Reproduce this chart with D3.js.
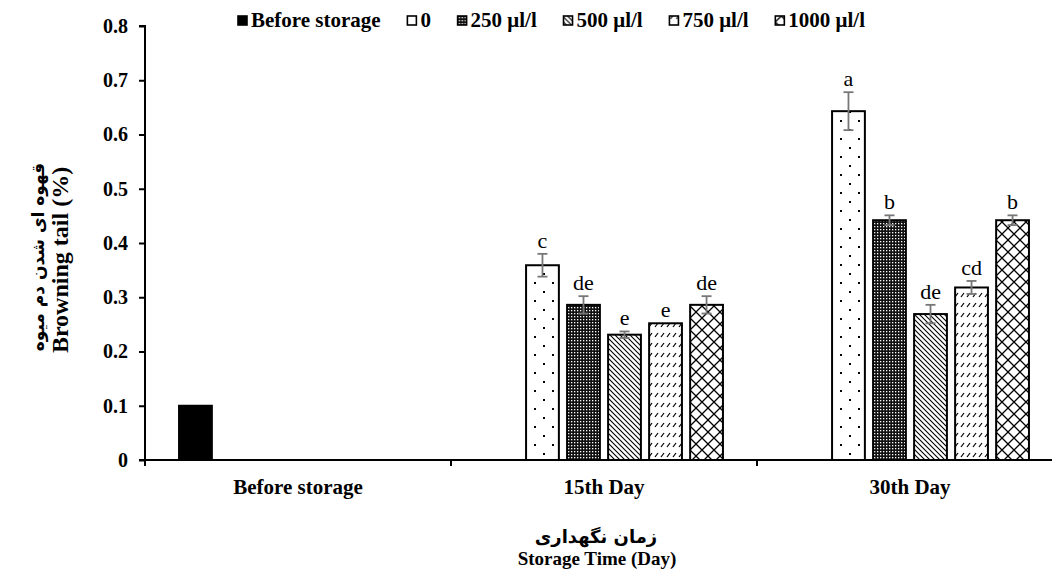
<!DOCTYPE html>
<html>
<head>
<meta charset="utf-8">
<script src="https://cdn.jsdelivr.net/npm/d3@7"></script>
<style>
  body { margin: 0; background: #fff; }
  svg { display: block; font-family: "Liberation Serif", "Times New Roman", serif; }
</style>
</head>
<body>
<div id="chart"></div>
<script>
// storage times on the x axis
var categories = ['Before storage', '15th Day', '30th Day'];
// treatments (legend order)
var series = ['Before storage', '0', '250 μl/l', '500 μl/l', '750 μl/l', '1000 μl/l'];
var patternIds = ['solid', 'dots', 'mesh', 'diag', 'dash', 'trellis'];

// browning tail values, one array per treatment, indexed by category
var beforeValues = [0.1, null, null];
var values0 = [null, 0.359, 0.643];
var values250 = [null, 0.286, 0.442];
var values500 = [null, 0.231, 0.269];
var values750 = [null, 0.252, 0.318];
var values1000 = [null, 0.286, 0.442];

// standard errors
var errBefore = [0, null, null];
var err0 = [null, 0.021, 0.035];
var err250 = [null, 0.016, 0.009];
var err500 = [null, 0.006, 0.017];
var err750 = [null, 0, 0.012];
var err1000 = [null, 0.016, 0.009];

// significance letters
var letBefore = ['', null, null];
var let0 = [null, 'c', 'a'];
var let250 = [null, 'de', 'b'];
var let500 = [null, 'e', 'de'];
var let750 = [null, 'e', 'cd'];
var let1000 = [null, 'de', 'b'];

var yTicks = [0, 0.1, 0.2, 0.3, 0.4, 0.5, 0.6, 0.7, 0.8];

var allValues = [beforeValues, values0, values250, values500, values750, values1000];
var allErrors = [errBefore, err0, err250, err500, err750, err1000];
var allLetters = [letBefore, let0, let250, let500, let750, let1000];

var width = 1052,
	height = 577,
	margin = {left: 145, top: 26, right: 0, bottom: 117};

var legendLeft = 238,
	legendRight = 865;

var svg = d3.select('#chart').append('svg')
	.attr('width', width)
	.attr('height', height);

var defs = svg.append('defs');

// fill patterns roughly like the Excel ones
var p = defs.append('pattern').attr('id', 'dots').attr('patternUnits', 'userSpaceOnUse')
	.attr('width', 18).attr('height', 18);
p.append('rect').attr('width', 18).attr('height', 18).attr('fill', '#fff');
p.append('rect').attr('x', 3).attr('y', 3).attr('width', 2).attr('height', 2).attr('fill', '#000');
p.append('rect').attr('x', 12).attr('y', 12).attr('width', 2).attr('height', 2).attr('fill', '#000');

p = defs.append('pattern').attr('id', 'mesh').attr('patternUnits', 'userSpaceOnUse')
	.attr('width', 3).attr('height', 3);
p.append('rect').attr('width', 3).attr('height', 3).attr('fill', '#111');
p.append('rect').attr('x', 1).attr('y', 1).attr('width', 1.3).attr('height', 1.3).attr('fill', '#fff');

p = defs.append('pattern').attr('id', 'diag').attr('patternUnits', 'userSpaceOnUse')
	.attr('width', 5).attr('height', 5);
p.append('rect').attr('width', 5).attr('height', 5).attr('fill', '#fff');
p.append('path').attr('d', 'M-1,-1 L6,6 M-1,4 L1,6 M4,-1 L6,1').attr('stroke', '#000').attr('stroke-width', 1.1);

p = defs.append('pattern').attr('id', 'dash').attr('patternUnits', 'userSpaceOnUse')
	.attr('width', 6).attr('height', 10);
p.append('rect').attr('width', 6).attr('height', 10).attr('fill', '#fff');
p.append('path').attr('d', 'M1,7 L4,3').attr('stroke', '#000').attr('stroke-width', 1.2);

p = defs.append('pattern').attr('id', 'trellis').attr('patternUnits', 'userSpaceOnUse')
	.attr('width', 12).attr('height', 12);
p.append('rect').attr('width', 12).attr('height', 12).attr('fill', '#fff');
p.append('path').attr('d', 'M0,0 L12,12 M12,0 L0,12').attr('stroke', '#000').attr('stroke-width', 1.3);

var x0 = d3.scaleBand()
	.domain(categories)
	.range([margin.left, margin.left + 3 * 306]);

var x1 = d3.scaleBand()
	.domain(series)
	.range([0, x0.bandwidth()])
	.paddingInner(0.2)
	.paddingOuter(0.83);

var y = d3.scaleLinear()
	.domain([0, 0.8])
	.range([height - margin.bottom, margin.top]);

// y axis
var yAxis = svg.append('g')
	.attr('transform', 'translate(' + margin.left + ',0)')
	.call(d3.axisLeft(y).tickValues(yTicks).tickSize(6)
		.tickFormat(function(d) { return d === 0 ? '0' : d.toFixed(1); }));
yAxis.selectAll('path, line').attr('stroke', '#000').attr('stroke-width', 2);
yAxis.select('.domain').attr('d', 'M-6,' + y(0.8) + 'H0V' + (y(0) + 6));
yAxis.selectAll('text')
	.attr('x', -17)
	.style('font-family', '"Liberation Serif", serif')
	.style('font-weight', 'bold')
	.style('font-size', '20px')
	.attr('fill', '#000');

// bars
var rows = [];
series.forEach(function(s, si) {
	categories.forEach(function(c, ci) {
		var v = allValues[si][ci];
		if (v == null) return;
		rows.push({series: s, cat: c, value: v, err: allErrors[si][ci], letter: allLetters[si][ci], pat: patternIds[si]});
	});
});

svg.append('g').selectAll('rect')
	.data(rows)
	.enter().append('rect')
	.attr('x', function(d) { return x0(d.cat) + x1(d.series); })
	.attr('y', function(d) { return y(d.value); })
	.attr('width', x1.bandwidth())
	.attr('height', function(d) { return y(0) - y(d.value); })
	.attr('fill', function(d) { return d.pat === 'solid' ? '#000' : 'url(#' + d.pat + ')'; })
	.attr('stroke', '#000')
	.attr('stroke-width', 2);

// error bars
var eb = svg.append('g').selectAll('g')
	.data(rows.filter(function(d) { return d.err > 0; }))
	.enter().append('g')
	.attr('stroke', '#777')
	.attr('stroke-width', 1.8);
eb.append('line')
	.attr('x1', function(d) { return x0(d.cat) + x1(d.series) + x1.bandwidth() / 2; })
	.attr('x2', function(d) { return x0(d.cat) + x1(d.series) + x1.bandwidth() / 2; })
	.attr('y1', function(d) { return y(d.value + d.err); })
	.attr('y2', function(d) { return y(d.value - d.err); });
[1, -1].forEach(function(sign) {
	eb.append('line')
		.attr('x1', function(d) { return x0(d.cat) + x1(d.series) + x1.bandwidth() / 2 - 5; })
		.attr('x2', function(d) { return x0(d.cat) + x1(d.series) + x1.bandwidth() / 2 + 5; })
		.attr('y1', function(d) { return y(d.value + sign * d.err); })
		.attr('y2', function(d) { return y(d.value + sign * d.err); });
});

// letters
svg.append('g').selectAll('text')
	.data(rows.filter(function(d) { return d.letter; }))
	.enter().append('text')
	.attr('x', function(d) { return x0(d.cat) + x1(d.series) + x1.bandwidth() / 2; })
	.attr('y', function(d) { return y(d.value + d.err) - 6; })
	.attr('text-anchor', 'middle')
	.style('font-size', '22px')
	.text(function(d) { return d.letter; });

// x axis
var xAxis = svg.append('g')
	.attr('transform', 'translate(0,' + y(0) + ')');
xAxis.append('line')
	.attr('x1', margin.left - 6).attr('x2', width)
	.attr('stroke', '#000').attr('stroke-width', 2);
xAxis.selectAll('.tk')
	.data(categories)
	.enter().append('line')
	.attr('class', 'tk')
	.attr('x1', function(d) { return x0(d); })
	.attr('x2', function(d) { return x0(d); })
	.attr('y1', 0).attr('y2', 6)
	.attr('stroke', '#000').attr('stroke-width', 2);
xAxis.selectAll('.lb')
	.data(categories)
	.enter().append('text')
	.attr('class', 'lb')
	.attr('x', function(d) { return x0(d) + x0.bandwidth() / 2; })
	.attr('y', 34)
	.attr('text-anchor', 'middle')
	.style('font-weight', 'bold')
	.style('font-size', '21px')
	.text(function(d) { return d; });

// axis titles
svg.append('text')
	.attr('x', 596).attr('y', 543)
	.attr('text-anchor', 'middle')
	.style('font-family', '"DejaVu Sans", sans-serif')
	.style('font-weight', 'bold')
	.style('font-size', '18px')
	.text('زمان نگهداری');
svg.append('text')
	.attr('x', 597).attr('y', 565)
	.attr('text-anchor', 'middle')
	.style('font-weight', 'bold')
	.style('font-size', '19px')
	.text('Storage Time (Day)');

svg.append('text')
	.attr('transform', 'translate(44,257) rotate(-90)')
	.attr('text-anchor', 'middle')
	.style('font-family', '"DejaVu Sans", sans-serif')
	.style('font-weight', 'bold')
	.style('font-size', '17px')
	.text('قهوه ای شدن دم میوه');
svg.append('text')
	.attr('transform', 'translate(68,260) rotate(-90)')
	.attr('text-anchor', 'middle')
	.style('font-weight', 'bold')
	.style('font-size', '24px')
	.text('Browning tail (%)');

// legend: items spread between legendLeft and legendRight
var legend = svg.append('g').attr('transform', 'translate(' + legendLeft + ',22)');
var items = series.map(function(s, i) {
	var item = legend.append('g');
	item.append('rect')
		.attr('x', 0).attr('y', -6)
		.attr('width', 9).attr('height', 9)
		.attr('fill', patternIds[i] === 'solid' ? '#000' : 'url(#' + patternIds[i] + ')')
		.attr('stroke', '#000')
		.attr('stroke-width', 1.6);
	var t = item.append('text')
		.attr('x', 13).attr('y', 5)
		.style('font-weight', 'bold')
		.style('font-size', '21px')
		.text(s);
	return {g: item, w: 13 + t.node().getComputedTextLength()};
});
var totalW = d3.sum(items, function(d) { return d.w; });
var gap = (legendRight - legendLeft - totalW) / (items.length - 1);
var lx = 0;
items.forEach(function(d) {
	d.g.attr('transform', 'translate(' + lx + ',0)');
	lx += d.w + gap;
});
</script>
</body>
</html>
